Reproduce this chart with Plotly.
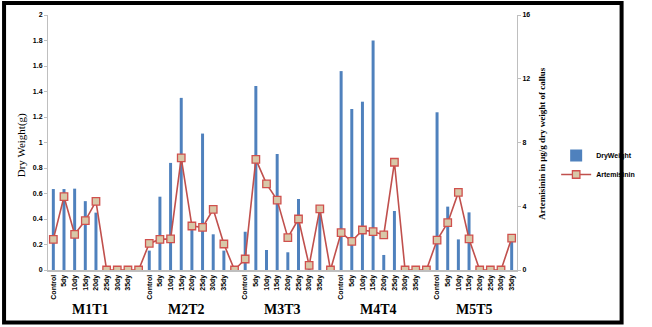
import plotly.graph_objects as go

groups = ["M1T1", "M2T2", "M3T3", "M4T4", "M5T5"]
days = ["Control", "5dy", "10dy", "15dy", "20dy", "25dy", "30dy", "35dy"]

dry_m1 = [0.635, 0.635, 0.638, 0.54, 0.45, 0, 0, 0]
dry_m2 = [0.152, 0.575, 0.84, 1.35, 0.34, 1.07, 0.28, 0.152]
dry_m3 = [0.30, 1.443, 0.157, 0.91, 0.139, 0.557, 0.03, 0.47]
dry_m4 = [1.56, 1.263, 1.32, 1.80, 0.118, 0.463, 0, 0]
dry_m5 = [1.237, 0.497, 0.24, 0.452, 0, 0, 0, 0.25]

art_m1 = [1.92, 4.6, 2.24, 3.1, 4.31, 0, 0, 0]
art_m2 = [1.67, 1.92, 1.95, 7.03, 2.76, 2.68, 3.81, 1.63]
art_m3 = [0.69, 6.94, 5.4, 4.39, 2.03, 3.2, 0.29, 3.83]
art_m4 = [2.34, 1.8, 2.51, 2.41, 2.2, 6.76, 0, 0]
art_m5 = [1.88, 2.97, 4.87, 1.95, 0, 0, 0, 2.0]
art_gap = 0  # blank separator row between groups

dry_all = [dry_m1, dry_m2, dry_m3, dry_m4, dry_m5]
art_all = [art_m1, art_m2, art_m3, art_m4, art_m5]

x_bar, y_bar, x_line, y_line = [], [], [], []
tickvals, ticktext, group_centers = [], [], []
pos = 0
for gi, g in enumerate(groups):
    start = pos
    for di, d in enumerate(days):
        x_bar.append(pos)
        y_bar.append(dry_all[gi][di])
        x_line.append(pos)
        y_line.append(art_all[gi][di])
        tickvals.append(pos)
        ticktext.append(d)
        pos += 1
    group_centers.append((start + pos - 1) / 2)
    if gi < len(groups) - 1:
        x_line.append(pos)
        y_line.append(art_gap)
        pos += 1
n_slots = pos

fig = go.Figure()
fig.add_trace(go.Bar(
    x=x_bar, y=y_bar, name="DryWeight", width=0.28,
    marker=dict(color="#4F81BD", line=dict(width=0)),
    yaxis="y",
))
fig.add_trace(go.Scatter(
    x=x_line, y=y_line, name="Artemisinin", mode="lines+markers",
    line=dict(color="#C0504D", width=1.6),
    marker=dict(symbol="square", size=7.5, color="#D8C8A8",
                line=dict(color="#D0504D", width=1.3)),
    yaxis="y2",
))

L, R, T, B = 48, 113, 15, 57
W, H = 652, 327
pw, ph = W - L - R, H - T - B

annotations = []
for g, c in zip(groups, group_centers):
    annotations.append(dict(
        x=c, y=(270 - 309) / ph, xref="x", yref="paper", text="<b>%s</b>" % g,
        showarrow=False, font=dict(family="Liberation Serif", size=14, color="black"),
        xanchor="center", yanchor="middle"))
annotations.append(dict(
    x=(20 - L) / pw, y=(270 - 145) / ph, xref="paper", yref="paper",
    text="Dry Weight(g)", textangle=-90, showarrow=False,
    font=dict(family="Liberation Serif", size=11, color="black"),
    xanchor="center", yanchor="middle"))
annotations.append(dict(
    x=(565 - L) / pw, y=(270 - 143) / ph, xref="paper", yref="paper",
    text="<b>Artemisinin in µg/g dry weight of callus</b>", textangle=-90, showarrow=False,
    font=dict(family="Liberation Serif", size=9, color="black"),
    xanchor="center", yanchor="middle"))

shapes = [dict(
    type="rect", xref="paper", yref="paper",
    x0=(2 - L) / pw, x1=(648.5 - L) / pw,
    y0=(270 - 322.5) / ph, y1=(270 - 3) / ph,
    line=dict(color="black", width=4), fillcolor="rgba(0,0,0,0)")]

tickfont = dict(family="Liberation Sans", size=7, color="black", weight="bold")

fig.update_layout(
    width=W, height=H,
    margin=dict(l=L, r=R, t=T, b=B, pad=0),
    paper_bgcolor="white", plot_bgcolor="white",
    showlegend=True,
    legend=dict(x=(580 - L) / pw, y=(270 - 141) / ph, xref="paper", yref="paper",
                xanchor="left", yanchor="top",
                font=dict(family="Liberation Sans", size=7, color="black", weight="bold"),
                tracegroupgap=0, itemwidth=30, bgcolor="rgba(0,0,0,0)"),
    xaxis=dict(range=[-0.5, n_slots - 0.5], tickmode="array", tickvals=tickvals,
               ticktext=ticktext, tickangle=-90, tickfont=tickfont,
               showline=True, linecolor="#BFBFBF", linewidth=2,
               showgrid=False, zeroline=False, ticks=""),
    yaxis=dict(range=[0, 2], dtick=0.2, tickfont=tickfont, showline=True,
               linecolor="#BFBFBF", linewidth=1, ticks="outside", ticklen=3,
               tickcolor="#BFBFBF", showgrid=False, zeroline=False),
    yaxis2=dict(range=[0, 16], dtick=4, overlaying="y", side="right",
                tickfont=tickfont, showline=True, linecolor="#BFBFBF", linewidth=1,
                ticks="outside", ticklen=3, tickcolor="#BFBFBF",
                showgrid=False, zeroline=False),
    annotations=annotations,
    shapes=shapes,
)

fig.write_html("out.html")
